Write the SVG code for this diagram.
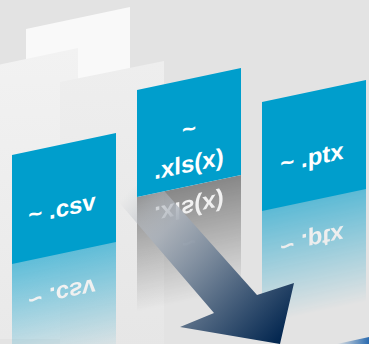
<svg xmlns="http://www.w3.org/2000/svg" width="369" height="344" viewBox="0 0 369 344">
  <style>
    .lbl { font-family: "Liberation Sans", Arial, sans-serif; font-weight: bold; font-size: 24px; fill: #ffffff; text-anchor: middle; }
    .panel { fill: #009ecc; }
  </style>
  <defs>
    <linearGradient id="fade" x1="0" y1="0" x2="0" y2="1">
      <stop offset="0" stop-color="#fff" stop-opacity="0.6"/>
      <stop offset="1" stop-color="#fff" stop-opacity="0"/>
    </linearGradient>
    <mask id="reflMask" maskUnits="userSpaceOnUse" maskContentUnits="userSpaceOnUse" x="-5" y="100" width="115" height="160">
      <rect x="0" y="107" width="104" height="115" fill="url(#fade)"/>
    </mask>
    <linearGradient id="ghost2" x1="0" y1="0" x2="0" y2="1">
      <stop offset="0" stop-color="#f2f2f2"/>
      <stop offset="1" stop-color="#e9e9e9"/>
    </linearGradient>
    <linearGradient id="ghost3" x1="0" y1="0" x2="0" y2="1">
      <stop offset="0" stop-color="#eeeeee"/>
      <stop offset="1" stop-color="#e6e6e6"/>
    </linearGradient>
    <linearGradient id="arrowGrad" gradientUnits="userSpaceOnUse" x1="128" y1="192" x2="285" y2="338">
      <stop offset="0" stop-color="#c4c8cd" stop-opacity="0"/>
      <stop offset="0.25" stop-color="#a9b0b9" stop-opacity="0.9"/>
      <stop offset="0.55" stop-color="#6b7d92"/>
      <stop offset="1" stop-color="#00244e"/>
    </linearGradient>
    <linearGradient id="streak" gradientUnits="userSpaceOnUse" x1="336" y1="0" x2="369" y2="0">
      <stop offset="0" stop-color="#2d6db0" stop-opacity="0"/>
      <stop offset="1" stop-color="#2a6bb0"/>
    </linearGradient>
  </defs>

  <rect x="0" y="0" width="369" height="344" fill="#e3e3e3"/>

  <g id="ghost-panels">
    <polygon points="26,29 130,7 130,120 26,140" fill="#f9f9f9"/>
    <polygon points="-26,75 78,53 78,344 -26,344" fill="url(#ghost2)" transform="translate(0,-5)"/>
    <polygon points="60,82 164,61 164,349 60,349" fill="url(#ghost3)"/>
  </g>

  <g id="reflections">
    <g transform="translate(12,155) skewY(-11.94)" mask="url(#reflMask)">
      <rect x="0" y="107" width="104" height="115" fill="#009ecc"/>
      <g transform="translate(0,213) scale(1,-1)">
        <text class="lbl" x="50" y="72">~ .csv</text>
      </g>
    </g>
    <g transform="translate(137,90) skewY(-11.94)" mask="url(#reflMask)">
      <rect x="0" y="107" width="104" height="115" fill="#4a4a4a"/>
      <g transform="translate(0,214) scale(1,-1)">
        <text class="lbl" x="52" y="58">~</text>
        <text class="lbl" x="52" y="93">.xls(x)</text>
      </g>
    </g>
    <g transform="translate(262,102) skewY(-11.94)" mask="url(#reflMask)">
      <rect x="0" y="107" width="104" height="115" fill="#009ecc"/>
      <g transform="translate(0,215) scale(1,-1)">
        <text class="lbl" x="50" y="74">~ .ptx</text>
      </g>
    </g>
  </g>

  <g id="arrow">
    <polygon points="150,175 257,295 294,283 280,344 180,327 214,313 117,200" fill="url(#arrowGrad)"/>
  </g>

  <g id="node-csv" transform="translate(12,155) skewY(-11.94)">
    <rect class="panel" x="0" y="0" width="104" height="109"/>
    <text class="lbl" x="50" y="72">~ .csv</text>
  </g>
  <g id="node-xls" transform="translate(137,90) skewY(-11.94)">
    <rect class="panel" x="0" y="0" width="104" height="107"/>
    <text class="lbl" x="52" y="58">~</text>
    <text class="lbl" x="52" y="93">.xls(x)</text>
  </g>
  <g id="node-ptx" transform="translate(262,102) skewY(-11.94)">
    <rect class="panel" x="0" y="0" width="104" height="109"/>
    <text class="lbl" x="50" y="74">~ .ptx</text>
  </g>

  <polygon id="streak-shape" points="336,344.2 369,337 369,344" fill="url(#streak)"/>
</svg>
